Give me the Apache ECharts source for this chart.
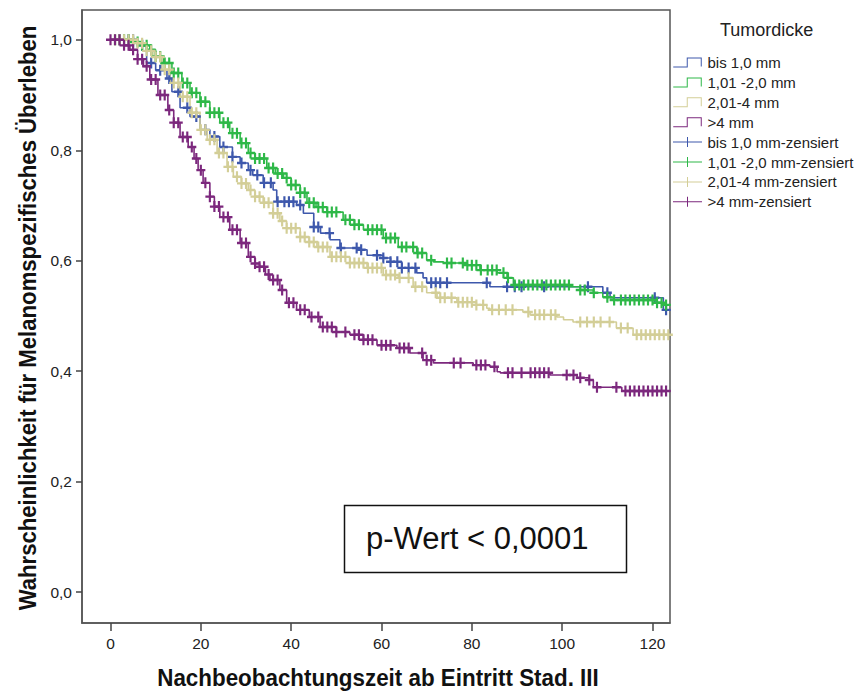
<!DOCTYPE html>
<html><head><meta charset="utf-8">
<script src="https://cdn.jsdelivr.net/npm/echarts@6/dist/echarts.min.js"></script>
<style>html,body{margin:0;padding:0;background:#fff}#c{width:865px;height:691px}</style>
</head><body><div id="c"></div>
<script>
// ---- data ----
const groupNames = ['bis 1,0 mm', '1,01 -2,0 mm', '2,01-4 mm', '>4 mm'];
const censorSuffix = '-zensiert';
const xTickValues = [0, 20, 40, 60, 80, 100, 120];
const yTickValues = [0, 0.2, 0.4, 0.6, 0.8, 1.0];

// Kaplan-Meier steps: [time, survival from this time on]
const stepsBlue = [[0,1],[6,0.99],[8,0.958],[10,0.945],[12.5,0.93],[13.6,0.906],[15.4,0.877],[17.6,0.861],[19.8,0.837],[22,0.825],[24.2,0.806],[27,0.788],[28.7,0.777],[30.5,0.764],[31.5,0.755],[33.8,0.741],[36,0.728],[36.8,0.707],[41.2,0.701],[42.7,0.686],[45,0.661],[46.5,0.65],[48.6,0.638],[50.8,0.623],[55.2,0.62],[56.8,0.61],[60.4,0.605],[62,0.598],[64.5,0.587],[67.8,0.578],[69.2,0.569],[70,0.56],[84,0.553],[109,0.542],[110.6,0.533],[122.4,0.511],[124,0.511]];
const stepsGreen = [[0,1],[5,0.996],[7,0.99],[8.7,0.982],[10,0.97],[11.7,0.958],[13.6,0.94],[15.8,0.922],[17.6,0.904],[19.8,0.888],[22,0.868],[24.2,0.85],[26.4,0.831],[28.7,0.813],[30.5,0.795],[32,0.785],[34.6,0.768],[36.5,0.758],[38.3,0.75],[40,0.737],[42,0.723],[43.5,0.705],[45.5,0.697],[47.9,0.688],[51.5,0.674],[54,0.665],[56,0.656],[60.4,0.641],[63.7,0.625],[67.8,0.614],[70,0.601],[71.5,0.598],[73.7,0.596],[79,0.592],[81.8,0.583],[85.6,0.578],[87.8,0.569],[89.2,0.556],[101.7,0.553],[104,0.547],[106.9,0.542],[109,0.534],[111.3,0.529],[121,0.524],[122.4,0.52],[124,0.52]];
const stepsTan = [[0,1],[5.8,0.994],[8,0.98],[9.4,0.969],[11.4,0.946],[13.2,0.922],[15.4,0.897],[17.6,0.868],[19.8,0.837],[21.4,0.819],[23.6,0.795],[25.8,0.77],[27.2,0.752],[29,0.74],[30.5,0.728],[32,0.716],[33.8,0.705],[36,0.686],[37.5,0.672],[39,0.659],[42,0.643],[44,0.634],[45.7,0.625],[48.6,0.607],[53,0.596],[56.8,0.587],[60.4,0.574],[63.7,0.569],[67,0.553],[70,0.542],[72.3,0.533],[76.7,0.525],[81,0.52],[83.3,0.514],[84,0.511],[91.3,0.507],[92.9,0.502],[98.8,0.498],[100.3,0.493],[102.4,0.489],[112,0.478],[115.7,0.466],[124,0.466]];
const stepsPurple = [[0,1],[3,0.99],[4.3,0.982],[6,0.965],[7.3,0.952],[8.7,0.928],[10.5,0.9],[12.7,0.873],[14,0.85],[15.4,0.824],[17.2,0.806],[18.5,0.785],[19.4,0.764],[20.5,0.741],[22,0.716],[23,0.698],[24.2,0.679],[26.4,0.656],[28.7,0.632],[30.5,0.607],[32,0.595],[33,0.589],[34.3,0.575],[35.3,0.565],[37.5,0.547],[39,0.524],[41.2,0.511],[44,0.498],[46.4,0.48],[50,0.471],[53,0.466],[56,0.457],[59,0.447],[63.4,0.442],[66.3,0.433],[69.2,0.42],[71.5,0.415],[80.3,0.411],[84,0.408],[85.6,0.399],[86.3,0.397],[97.3,0.393],[103.3,0.388],[106,0.384],[106.9,0.371],[113.2,0.364],[124,0.364]];

// censoring times
const censBlue = [2,4,5,7,9,11,13,15,17,19,21,23,25,27,29,31,32.5,34,35.5,37,38.5,39.5,40.5,42,45,46,48.5,51,54.5,55.5,59,60.4,62,63.5,64.5,66,67.5,71,72,73,74.5,83.3,87.8,89.5,91,96,105.7,110,120.5,123];
const censGreen = [1,2,3,4,5,6,7,8,9,10,11,12,13,14,15,16,17,18,19,20,21,22,23,24,25,26,27,28,29,30,31,32,33,34,35,36,37,38,39,40,41,42,43,44,45,46,47,48,49,50,52,53,54,55,57,58,59,60,61,62,63,64.5,65.5,67,68,69,71,74.5,75.5,78,79,80,81,82,83.5,84.5,85.5,87,88,89.5,90.5,91.5,92.5,93.5,94.5,95.5,96.5,97.5,98.5,99.5,100.5,101.5,104,105,107,110,111.5,113,114,115,116,117,118,119,120,121,122,123];
const censTan = [1,2,3,4,5,6,7,8,9,10,11,12,13,14,15,16,17,18,19,20,21,22,23,24,25,26,27,28,29,30,31,32,33,34,35,36,37,38,39,40,41,42,43,44,45,46,47,48,49,50,51,52,53,54,55,56,57,58,59,60,61,62,63,64,66,67.5,69,72,73,74,75.5,77,78,79,80,81,82.5,84.5,86,87.5,89,92.5,94,95,96,97.5,98.5,104,105.5,107,108.5,110.5,113,114.5,116.5,117.5,118.5,119.5,120.5,121.5,122.5,123.5];
const censPurple = [0,1,2,3,4,5,6,7,8,9,10,11,12,13,14,15,16,17,18,19,20,21,22,23,24,25,26,27,28,29,30,31,32,33,34,35,36,37,38,39.5,40.5,42,43,44.5,46,47,48,49,50,52,54,55,56,57,58,60,61,62,64,65,66,69,70,71,76,77.5,81,82,83,85,88,89,91,93,94,95,96,97,101,102.5,104,106,107.7,112,114,115,116,117,118,119,120,121,122,123];

const pText = 'p-Wert < 0,0001';
const legendTitle = 'Tumordicke';
const xTitle = 'Nachbeobachtungszeit ab Eintritt Stad. III';
const yTitle = 'Wahrscheinlichkeit für Melanomspezifisches Überleben';

// ---- build ----
const colors = ['#3E58AC', '#2EB848', '#D3CE97', '#7C287D'];
const allSteps = [stepsBlue, stepsGreen, stepsTan, stepsPurple];
const allCens = [censBlue, censGreen, censTan, censPurple];
const FONT = '"Liberation Sans", Arial, sans-serif';

function survAt(steps, t) {
  let v = steps[0][1];
  for (const s of steps) { if (s[0] <= t) v = s[1]; else break; }
  return v;
}

const plusPath = 'path://M3.8,0H6.2V3.9H10V6.1H6.2V10H3.8V6.1H0V3.9H3.8Z';
const stepIcon = 'path://M0,9H13.5V0H28.5V9H27.5V1H14.5V10H0Z';
const censIcon = 'path://M0,4.5H14V0H15V4.5H29V5.5H15V10H14V5.5H0Z';

const series = [];
groupNames.forEach((n, i) => {
  series.push({
    name: n, type: 'line', step: 'end', showSymbol: false, symbol: 'none',
    data: allSteps[i], color: colors[i],
    lineStyle: { width: 1.6, color: colors[i] }, animation: false, z: 2
  });
});
groupNames.forEach((n, i) => {
  series.push({
    name: n + censorSuffix, type: 'scatter', symbol: plusPath, symbolSize: [9, 11],
    data: allCens[i].map(t => [t, survAt(allSteps[i], t)]),
    color: colors[i], itemStyle: { color: colors[i], opacity: 1 }, animation: false, z: 3
  });
});

function measure(text, font) {
  const c = document.createElement('canvas').getContext('2d');
  c.font = font; return c.measureText(text).width;
}
const yTitleFont = 'bold 24px ' + FONT;
const xTitleFont = 'bold 23px ' + FONT;
const yScale = 585 / measure(yTitle, yTitleFont);
const xScale = 442 / measure(xTitle, xTitleFont);

const fmt = v => v.toFixed(1).replace('.', ',');

const option = {
  backgroundColor: '#fff',
  animation: false,
  grid: { left: 82, top: 10, right: 195, bottom: 68, show: true, borderColor: '#555', borderWidth: 1.5, backgroundColor: 'transparent' },
  xAxis: {
    type: 'value', min: -6.31, max: 123.87,
    axisLine: { onZero: false, lineStyle: { color: '#555', width: 1.5 } },
    axisTick: { show: true, length: 8, customValues: xTickValues, lineStyle: { color: '#444', width: 1.5 } },
    axisLabel: { customValues: xTickValues, margin: 12, fontSize: 15.5, color: '#222', fontFamily: FONT },
    splitLine: { show: false }
  },
  yAxis: {
    type: 'value', min: -0.056, max: 1.054,
    axisLine: { show: true, onZero: false, lineStyle: { color: '#555', width: 1.5 } },
    axisTick: { show: true, length: 6, customValues: yTickValues, lineStyle: { color: '#444', width: 1.5 } },
    axisLabel: { customValues: yTickValues, margin: 10, fontSize: 15.5, color: '#222', fontFamily: FONT, formatter: fmt },
    splitLine: { show: false }
  },
  title: { text: legendTitle, left: 720, top: 21, padding: 0, textStyle: { fontSize: 18, fontWeight: 'normal', color: '#222', fontFamily: FONT } },
  legend: {
    orient: 'vertical', left: 673, top: 55, padding: 0, itemWidth: 30, itemHeight: 10, itemGap: 4.9,
    textStyle: { fontSize: 15, color: '#222', fontFamily: FONT, lineHeight: 14 },
    itemStyle: { borderWidth: 0 },
    data: [
      ...groupNames.map((n, i) => ({ name: n, icon: stepIcon, itemStyle: { color: colors[i], borderWidth: 0 } })),
      ...groupNames.map((n, i) => ({ name: n + censorSuffix, icon: censIcon, itemStyle: { color: colors[i], borderWidth: 0 } }))
    ],
    selectedMode: false
  },
  graphic: [
    { type: 'text', x: 28, y: 318, rotation: Math.PI / 2, scaleX: yScale, scaleY: 1,
      style: { text: yTitle, font: yTitleFont, fill: '#111', align: 'center', verticalAlign: 'middle' } },
    { type: 'text', x: 378, y: 678, scaleX: xScale, scaleY: 1,
      style: { text: xTitle, font: xTitleFont, fill: '#111', align: 'center', verticalAlign: 'middle' } },
    { type: 'rect', shape: { x: 344.5, y: 505.5, width: 282, height: 67 }, z: 10,
      style: { fill: '#fff', stroke: '#111', lineWidth: 1.5 } },
    { type: 'text', x: 366, y: 538, z: 11,
      style: { text: pText, font: '31px ' + FONT, fill: '#111', align: 'left', verticalAlign: 'middle' } }
  ],
  series: series
};

const chart = echarts.init(document.getElementById('c'), null, { renderer: 'svg' });
chart.setOption(option);
</script>
</body></html>
